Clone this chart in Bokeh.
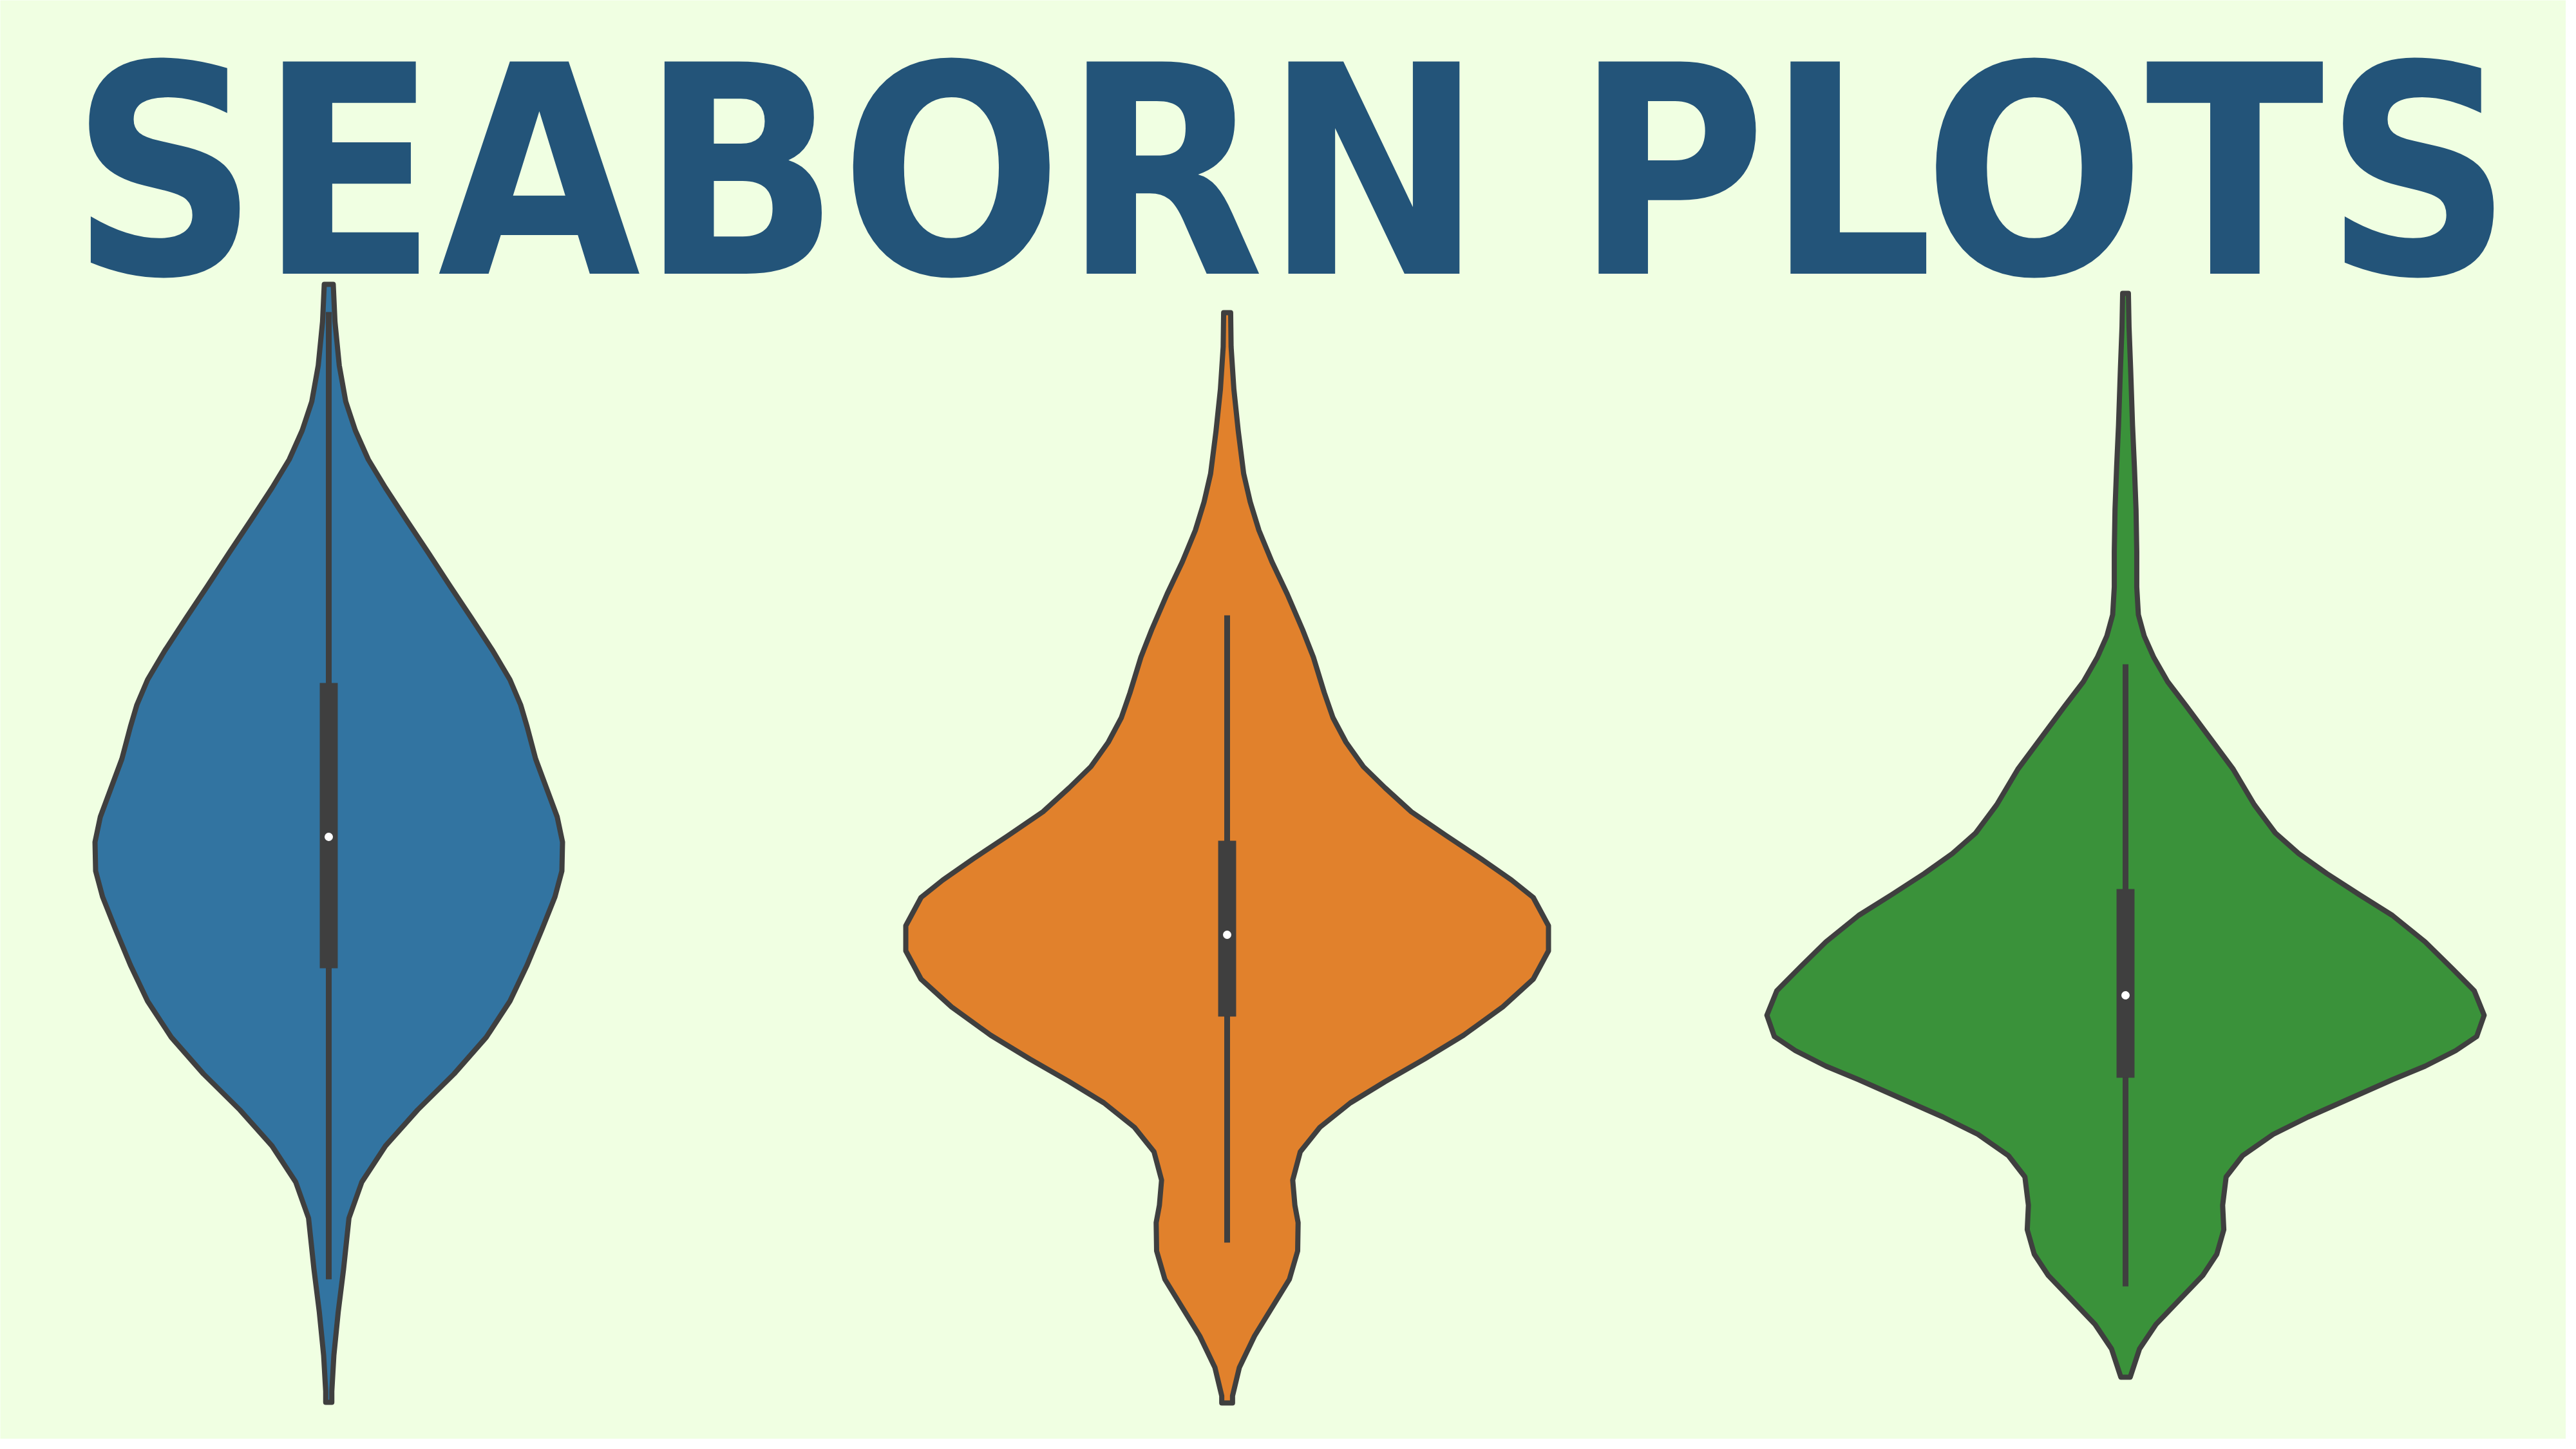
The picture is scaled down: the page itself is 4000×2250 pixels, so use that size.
from bokeh.plotting import figure
from bokeh.models import Range1d
from bokeh.core.properties import value
from bokeh.embed import file_html
from bokeh.resources import INLINE

# violin outlines: value level and half width (category units)
blue_v = [17.93, 17.35, 16.67, 16.11, 15.66, 15.21, 14.77, 14.26, 13.76, 13.25, 12.75, 12.24, 11.79, 11.40,
          11.06, 10.56, 10.11, 9.66, 9.27, 8.82, 8.42, 7.92, 7.36, 6.80, 6.24, 5.67, 5.11, 4.55, 3.99, 3.43,
          2.64, 1.97, 1.30, 0.74, 0.57]
blue_w = [0.0050, 0.0069, 0.0117, 0.0189, 0.0296, 0.0440, 0.0631, 0.0870, 0.1109, 0.1348, 0.1587, 0.1826, 0.2017, 0.2136,
          0.2208, 0.2303, 0.2423, 0.2543, 0.2602, 0.2595, 0.2518, 0.2375, 0.2208, 0.2017, 0.1754, 0.1395, 0.0989, 0.0631, 0.0368, 0.0225,
          0.0165, 0.0105, 0.0057, 0.0034, 0.0034]

orange_v = [17.49, 16.96, 16.30, 15.65, 14.99, 14.55, 14.11, 13.62, 13.12, 12.57, 12.14, 11.59, 11.20, 10.82, 10.44,
            10.11, 9.74, 9.37, 9.01, 8.68, 8.41, 7.97, 7.58, 7.14, 6.71, 6.27, 5.90, 5.55, 5.22, 4.84, 4.46,
            4.02, 3.63, 3.36, 2.92, 2.48, 2.04, 1.60, 1.11, 0.67, 0.56]
orange_w = [0.0039, 0.0044, 0.0075, 0.0124, 0.0184, 0.0257, 0.0354, 0.0499, 0.0669, 0.0839, 0.0960, 0.1081, 0.1178, 0.1323, 0.1517,
            0.1759, 0.2050, 0.2438, 0.2826, 0.3165, 0.3407, 0.3577, 0.3577, 0.3407, 0.3068, 0.2632, 0.2196, 0.1759, 0.1372, 0.1032, 0.0814,
            0.0730, 0.0754, 0.0790, 0.0785, 0.0693, 0.0499, 0.0305, 0.0136, 0.0060, 0.0060]

green_v = [17.79, 17.27, 16.61, 15.74, 15.09, 14.43, 13.78, 13.23, 12.80, 12.47, 12.14, 11.76, 11.38, 10.89, 10.40,
           9.85, 9.41, 9.09, 8.78, 8.45, 8.13, 7.72, 7.29, 6.96, 6.58, 6.25, 6.03, 5.79, 5.58, 5.29, 5.00,
           4.73, 4.40, 4.07, 3.63, 3.25, 2.87, 2.54, 2.16, 1.78, 1.40, 0.96]
green_w = [0.0032, 0.0039, 0.0057, 0.0078, 0.0099, 0.0117, 0.0125, 0.0125, 0.0143, 0.0208, 0.0313, 0.0469, 0.0677, 0.0938, 0.1199,
           0.1433, 0.1668, 0.1928, 0.2241, 0.2606, 0.2971, 0.3335, 0.3648, 0.3882, 0.3992, 0.3909, 0.3674, 0.3335, 0.2971, 0.2502, 0.2032,
           0.1642, 0.1303, 0.1120, 0.1081, 0.1094, 0.1016, 0.0860, 0.0599, 0.0339, 0.0156, 0.0052]

# box plot inside each violin
positions = [0, 1, 2]
q1 = [7.31, 6.56, 5.61]
median = [9.35, 7.83, 6.89]
q3 = [11.74, 9.29, 8.54]
whisk_lo = [2.48, 3.05, 2.37]
whisk_hi = [17.50, 12.79, 12.03]

colors = ["#3274a1", "#e1812c", "#3a923a"]
title_text = "SEABORN PLOTS"

bg = "#f0ffe2"
edge = "#3f3f3f"

p = figure(width=3984, height=2234, output_backend="svg", toolbar_location=None,
           x_range=Range1d(-0.36559, 2.49032), y_range=Range1d(0, 22.34),
           min_border=0, background_fill_color=bg, border_fill_color=bg)
p.axis.visible = False
p.grid.visible = False
p.outline_line_color = None

violins = [(blue_v, blue_w), (orange_v, orange_w), (green_v, green_w)]
xs, ys = [], []
for pos, (vals, widths) in zip(positions, violins):
    left = [pos - w for w in widths]
    right = [pos + w for w in widths[::-1]]
    xs.append(left + right)
    ys.append(vals + vals[::-1])
p.patches(xs, ys, fill_color=colors, line_color=edge, line_width=8, line_join="round")

p.segment(x0=positions, y0=whisk_lo, x1=positions, y1=whisk_hi, line_color=edge, line_width=9)
p.vbar(x=positions, bottom=q1, top=q3, width=0.02, fill_color=edge, line_color=None)
p.scatter(x=positions, y=median, size=13, fill_color="white", line_color=None)

p.text(x=[1.0717], y=[19.66], text=[title_text],
       text_font=value("DejaVu Sans Condensed"), text_font_style="bold", text_font_size=value("452px"),
       text_color="#235479", text_align="center", text_baseline="alphabetic")

open("out.html", "w").write(file_html(p, INLINE))
